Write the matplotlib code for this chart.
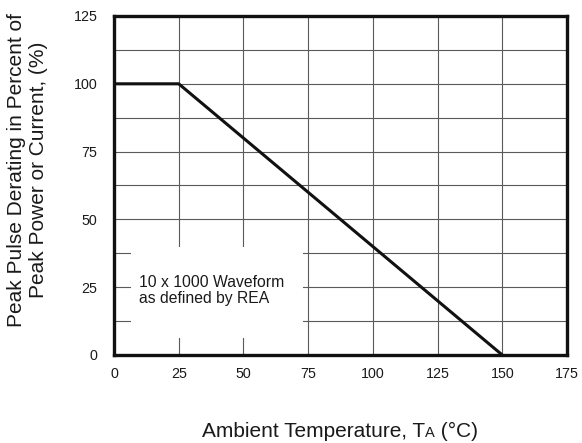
import matplotlib
matplotlib.use("Agg")
import matplotlib.pyplot as plt
import matplotlib.patches as mpatches

plt.rcParams['font.family'] = ['Liberation Sans', 'DejaVu Sans']

temps = [0, 25, 150]
derating = [100, 100, 0]
x_ticks = [0, 25, 50, 75, 100, 125, 150, 175]
y_ticks = [0, 25, 50, 75, 100, 125]
y_grid = [12.5, 25, 37.5, 50, 62.5, 75, 87.5, 100, 112.5]
x_grid = [25, 50, 75, 100, 125, 150]
note_lines = ["10 x 1000 Waveform", "as defined by REA"]

W, H = 582, 443
fig = plt.figure(figsize=(W/100, H/100), dpi=100)
L, R, T, B = 114, 567, 16, 355
ax = fig.add_axes([L/W, 1-B/H, (R-L)/W, (B-T)/H])
ax.set_xlim(0, 175)
ax.set_ylim(0, 125)

for g in x_grid:
    ax.axvline(g, color='#5a5a5a', lw=0.8, zorder=1)
for g in y_grid:
    ax.axhline(g, color='#5a5a5a', lw=0.8, zorder=1)

def px2data_x(px):
    return (px - L) / (R - L) * 175
def px2data_y(py):
    return (B - py) / (B - T) * 125

bx0, bx1 = px2data_x(131), px2data_x(303)
by0, by1 = px2data_y(338), px2data_y(247)
ax.add_patch(mpatches.Rectangle((bx0, by0), bx1-bx0, by1-by0, facecolor='white',
                                edgecolor='none', zorder=2))
ax.text(px2data_x(139), px2data_y(287), note_lines[0], fontsize=11.3, va='baseline', ha='left',
        zorder=3, color='#1a1a1a')
ax.text(px2data_x(139), px2data_y(303), note_lines[1], fontsize=11.3, va='baseline', ha='left',
        zorder=3, color='#1a1a1a')

ax.plot(temps, derating, color='#111111', lw=2.2, zorder=4, solid_capstyle='butt')

ax.set_xticks(x_ticks)
ax.set_yticks(y_ticks)
ax.tick_params(length=0, labelsize=10.3, colors='#1a1a1a')
ax.tick_params(axis='x', pad=9)
ax.tick_params(axis='y', pad=12)
for s in ax.spines.values():
    s.set_linewidth(2.4)
    s.set_color('#111111')
    s.set_zorder(5)

# x label built from pieces: "Ambient Temperature, T" + small "A" + " (°C)"
fig.canvas.draw()
r = fig.canvas.get_renderer()
pieces = [("Ambient Temperature, T", 15), ("A", 10.5), (" (°C)", 15)]
base_y = 1 - 437/H
texts = []
x = 0
for s, fs in pieces:
    t = fig.text(x, base_y, s, fontsize=fs, ha='left', va='baseline', color='#1a1a1a')
    texts.append(t)
    x += t.get_window_extent(r).width / W
total = x
x0 = 340/W - total/2
x = x0
for t in texts:
    t.set_x(x)
    x += t.get_window_extent(r).width / W

fig.text(27.5/W, 1-170/H, "Peak Pulse Derating in Percent of\nPeak Power or Current, (%)",
         fontsize=15, rotation=90, ha='center', va='center', linespacing=1.2, color='#1a1a1a')

fig.savefig("out.png", dpi=100)
